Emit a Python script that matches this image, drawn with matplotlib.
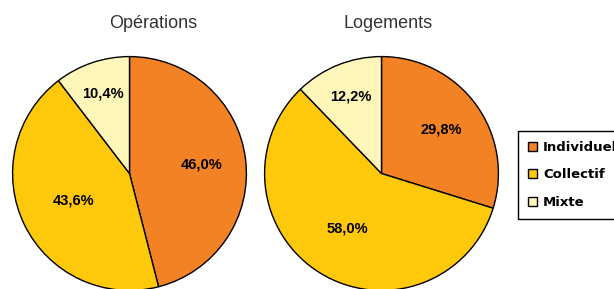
import matplotlib.pyplot as plt
import numpy as np

categories = ["Individuel", "Collectif", "Mixte"]
operations = [46.0, 43.6, 10.4]
logements = [29.8, 58.0, 12.2]
titles = ["Opérations", "Logements"]

colors = ["#F28224", "#FFC90B", "#FFF7B9"]
# radial position of each percentage label (fraction of radius)
label_dist = [[0.62, 0.53, 0.72], [0.63, 0.55, 0.71]]

W, H = 614, 289
fig = plt.figure(figsize=(W / 100, H / 100), dpi=100)

# pie axes: (left px, top px, size px)
boxes = [(12, 56, 235), (264, 56, 235)]
title_x = [153, 388]

wedges_all = None
for i, data in enumerate([operations, logements]):
    x0, y0, s = boxes[i]
    ax = fig.add_axes([x0 / W, 1 - (y0 + s) / H, s / W, s / H])
    wedges, texts = ax.pie(data, colors=colors, startangle=90, counterclock=False,
                           wedgeprops=dict(edgecolor="black", linewidth=1.0))
    theta = 90 - (np.cumsum(data) - np.array(data) / 2) * 3.6
    for v, t, d in zip(data, theta, label_dist[i]):
        ax.text(d * np.cos(np.radians(t)), d * np.sin(np.radians(t)),
                f"{v:.1f}%".replace(".", ","), ha="center", va="center",
                fontsize=10.5, fontweight="bold", family="Liberation Sans")
    ax.set_xlim(-1.005, 1.005)
    ax.set_ylim(-1.005, 1.005)
    ax.set_aspect("equal")
    ax.axis("off")
    fig.text(title_x[i] / W, 1 - 23 / H, titles[i], ha="center", va="center",
             fontsize=13, color="#333333", family="Liberation Sans")
    wedges_all = wedges

leg = fig.legend(wedges_all, categories, loc="upper left",
                 bbox_to_anchor=(518 / W, 1 - 131 / H), frameon=True,
                 fancybox=False, edgecolor="black", framealpha=1,
                 prop=dict(family="DejaVu Sans", weight="bold", size=9.5),
                 handlelength=0.7, handleheight=0.7, handletextpad=0.45,
                 labelspacing=1.1, borderpad=0.75, borderaxespad=0)
leg.get_frame().set_linewidth(1.0)
for h in leg.legend_handles:
    h.set_edgecolor("black")
    h.set_linewidth(1.0)

fig.savefig("out.png", dpi=100)
